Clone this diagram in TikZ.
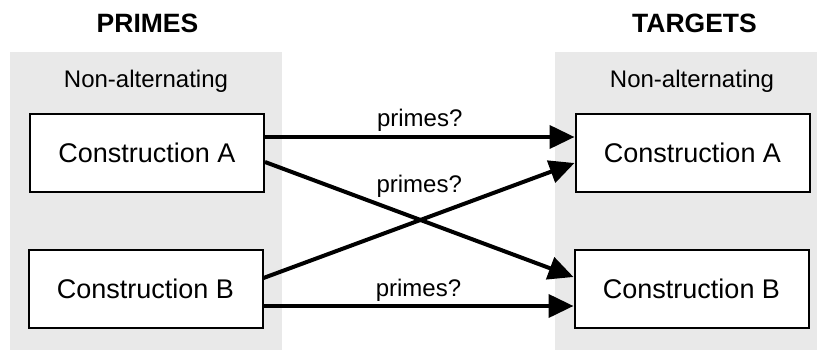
\documentclass[tikz,border=0pt]{standalone}
\usepackage{fontspec}
\setmainfont{Liberation Sans}
\usetikzlibrary{arrows.meta,calc}

\definecolor{panelgray}{HTML}{E9E9E9}

\tikzset{
  panel/.style={fill=panelgray, draw=none},
  conbox/.style={draw=black, line width=2pt, fill=white, minimum width=234pt,
    minimum height=78pt, inner sep=0pt,
    font=\fontsize{27}{32}\selectfont},
  heading/.style={font=\fontsize{26.5}{30}\selectfont\bfseries, anchor=base},
  subhead/.style={font=\fontsize{24}{28}\selectfont, anchor=base},
  query/.style={font=\fontsize{24}{28}\selectfont, anchor=base, inner sep=0pt},
  link/.style={line width=4pt, -{Triangle[length=25pt,width=23pt]}},
}

\begin{document}
\begin{tikzpicture}[x=1pt, y=-1pt]
  \useasboundingbox (0,0) rectangle (817,351);

  % grey column backgrounds
  \fill[panel] (10,52) rectangle (282,350);
  \fill[panel] (555,52) rectangle (817,350);

  % column headings
  \node[heading] (hp) at (147.5,32) {PRIMES};
  \node[heading] (ht) at (694.5,32) {TARGETS};
  \node[subhead] (sl) at (146,87) {Non-alternating};
  \node[subhead] (sr) at (692,87) {Non-alternating};

  % constructions
  \node[conbox] (lA) at (147,153) {Construction A};
  \node[conbox] (lB) at (145.5,289) {Construction B};
  \node[conbox] (rA) at (692.5,153) {Construction A};
  \node[conbox] (rB) at (691.5,289) {Construction B};

  % end points on the box sides
  \coordinate (lA1) at ([yshift=16pt]lA.east);
  \coordinate (lA2) at ([yshift=-9pt]lA.east);
  \coordinate (lB1) at ([yshift=11pt]lB.east);
  \coordinate (lB2) at ([yshift=-17pt]lB.east);
  \coordinate (rA1) at ([yshift=16pt]rA.west);
  \coordinate (rA2) at ([yshift=-10pt]rA.west);
  \coordinate (rB1) at ([yshift=12pt]rB.west);
  \coordinate (rB2) at ([yshift=-17pt]rB.west);

  % arrows
  \draw[link] (lA1) -- (rA1);
  \draw[link] (lA2) -- (rB1);
  \draw[link] (lB1) -- (rA2);
  \draw[link] (lB2) -- (rB2);

  % labels
  \path (lA1) -- (rA1) node[query, midway, yshift=11pt] (q1) {primes?};
  \path (lA2) -- (rB1) node[query, midway, yshift=27.5pt] (q2) {primes?};
  \path (lB2) -- (rB2) node[query, midway, yshift=10pt] (q3) {primes?};
\end{tikzpicture}
\end{document}
